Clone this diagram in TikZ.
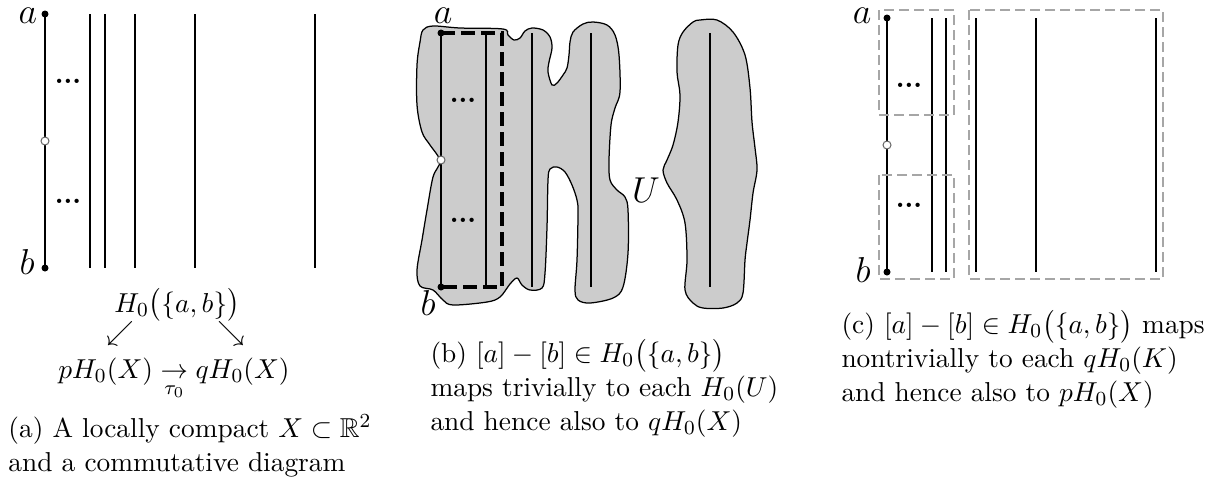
\documentclass[tikz,border=0pt,11pt]{standalone}
\usepackage{amsmath,amssymb}
\usepackage{xcolor}
\usepackage{tikz}

\tikzset{
  wire/.style={line width=1.15pt},
  midwire/.style={line width=0.8pt},
  thinwire/.style={line width=0.55pt},
  region/.style={fill=black!20, draw=black, line width=0.5pt},
  cover/.style={draw=black!35, line width=0.8pt, dash pattern=on 4pt off 2pt},
  pathbox/.style={line width=1.4pt, dash pattern=on 5.5pt off 2.5pt},
  hole/.style={fill=white, draw=black!60, line width=0.4pt},
  ptlabel/.style={font=\Large, inner sep=0pt, anchor=base},
  dotsnode/.style={inner sep=0pt, anchor=base, font=\bfseries},
  caption/.style={align=left, anchor=north west, inner sep=0pt}
}

\begin{document}
\begin{tikzpicture}[x=0.4pt, y=-0.4pt]
  \useasboundingbox (0,0) rectangle (1210,482);

  % (a) the space X and the diagram
  \foreach \dx in {45,60,90,150,270}
    \draw[wire] (45+\dx,14) -- (45+\dx,268);
  \draw[wire] (45,14) coordinate (aA) -- (45,268) coordinate (bA);
  \fill (aA) circle (1.4pt);
  \fill (bA) circle (1.4pt);
  \draw[hole] (45,141) circle (1.6pt);
  \node[ptlabel] (labA) at (28,23) {$a$};
  \node[ptlabel] (lbbA) at (27,274) {$b$};
  \node[dotsnode] (dotsA1) at (68,83) {...};
  \node[dotsnode] (dotsA2) at (68,203) {...};

  \node[anchor=base] (hab) at (177,312) {$H_0\bigl(\{a,b\}\bigr)$};
  \node[inner sep=0pt] (sw) at (120,334) {$\swarrow$};
  \node[inner sep=0pt] (se) at (231,334) {$\searrow$};
  \node[anchor=base] (pq) at (174,378) {$pH_0(X) \underset{\tau_0}{\to} qH_0(X)$};
  \node[caption] (capA) at (8,414)
    {(a) A locally compact $X\subset\mathbb{R}^2$\\and a commutative diagram};

  % (b) an open set U around X
  \draw[region] plot[smooth cycle, tension=0.55] coordinates {
    (423,30) (433,26) (460,28) (503,29) (508,35) (514,40) (520,38) (525,31)
    (532,28) (543,30) (550,37) (552,48) (549,62) (548,72) (552,85) (557,83)
    (563,75) (567,68) (569,55) (570,42) (573,32) (583,24) (593,22) (607,25)
    (615,35) (619,55) (620,92) (615,108) (611,125) (609,160) (610,180)
    (617,190) (625,197) (628,210) (628,253) (623,287) (613,298) (590,303)
    (578,300) (575,290) (577,260) (578,213) (577,200) (572,185) (565,172)
    (557,167) (550,169) (548,180) (547,227) (545,273) (542,288) (530,290)
    (522,285) (517,278) (510,284) (500,297) (487,302) (453,305) (443,300)
    (433,290) (420,286) (417,270) (422,240) (427,210) (433,177) (440,161)
    (430,145) (422,132) (417,105) (417,65) (420,42)};
  \draw[region] plot[smooth cycle, tension=0.55] coordinates {
    (700,20) (717,20) (733,32) (745,55) (750,88) (752,122) (755,148)
    (757,170) (753,193) (750,220) (747,243) (745,260) (743,293) (737,303)
    (723,308) (703,308) (693,303) (685,290) (687,260) (685,223) (677,200)
    (667,183) (663,170) (667,160) (673,145) (678,122) (680,95) (677,72)
    (678,45) (683,32) (693,22)};
  \foreach \x in {486,532,591,710}
    \draw[midwire] (\x,33) -- (\x,287);
  \draw[midwire] (441,33) coordinate (aB) -- (441,287) coordinate (bB);
  \draw[pathbox] (aB) -- (502,33) -- (502,287) -- (bB);
  \fill (aB) circle (1.4pt);
  \fill (bB) circle (1.4pt);
  \draw[hole] (441,160) circle (1.6pt);
  \node[ptlabel] (labB) at (443,23) {$a$};
  \node[ptlabel] (lbbB) at (428,315) {$b$};
  \node[ptlabel] (labU) at (646,202) {$U$};
  \node[dotsnode] (dotsB1) at (463,102) {...};
  \node[dotsnode] (dotsB2) at (463,222) {...};
  \node[caption] (capB) at (430,339)
    {(b) $[a]-[b]\in H_0\bigl(\{a,b\}\bigr)$\\maps trivially to each $H_0(U)$\\and hence also to $qH_0(X)$};

  % (c) compact pieces K
  \foreach \x in {887,932,946} {
    \draw[wire] (\x,18) -- (\x,107);
    \draw[thinwire] (\x,107) -- (\x,183);
    \draw[wire] (\x,183) -- (\x,272);
  }
  \foreach \x in {976,1036,1156}
    \draw[wire] (\x,18) -- (\x,272);
  \draw[cover] (879,10) rectangle (954,115);
  \draw[cover] (879,175) rectangle (954,279);
  \draw[cover] (969,10) rectangle (1163,279);
  \coordinate (aC) at (887,18);
  \coordinate (bC) at (887,272);
  \fill (aC) circle (1.4pt);
  \fill (bC) circle (1.4pt);
  \draw[hole] (887,145) circle (1.6pt);
  \node[ptlabel] (labC) at (862,23) {$a$};
  \node[ptlabel] (lbbC) at (863,282) {$b$};
  \node[dotsnode] (dotsC1) at (909,87) {...};
  \node[dotsnode] (dotsC2) at (909,207) {...};
  \node[caption] (capC) at (841,310)
    {(c) $[a]-[b]\in H_0\bigl(\{a,b\}\bigr)$ maps\\nontrivially to each $qH_0(K)$\\and hence also to $pH_0(X)$};
\end{tikzpicture}
\end{document}
